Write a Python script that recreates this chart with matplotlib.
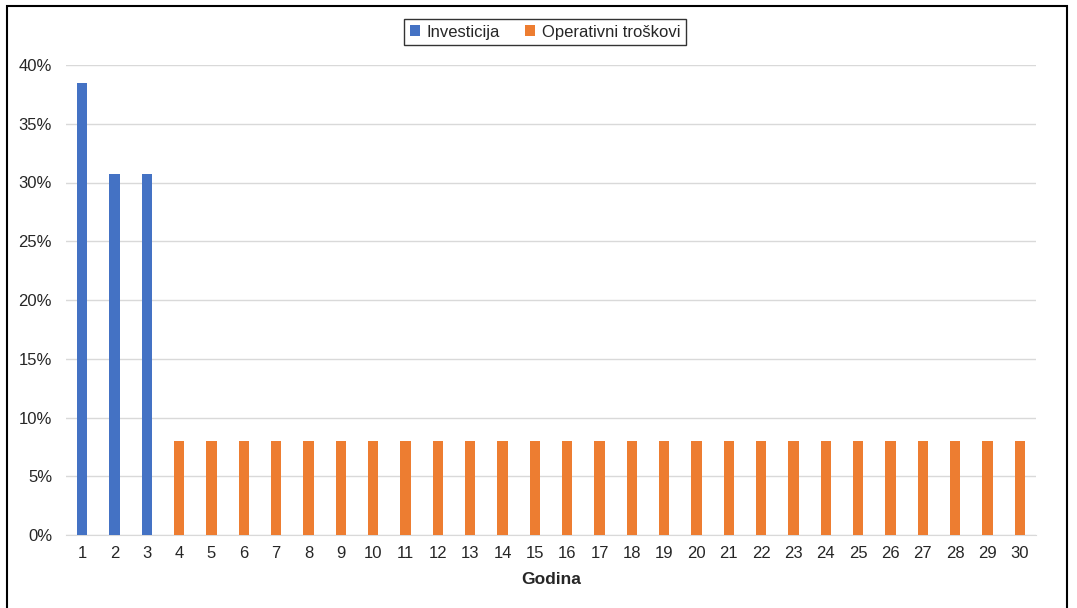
import matplotlib.pyplot as plt
import numpy as np
from matplotlib.patches import Rectangle

plt.rcParams['font.family'] = ['Liberation Sans', 'DejaVu Sans']

godina = list(range(1, 31))
investicija = [38.5, 30.75, 30.75] + [0] * 27
operativni = [0, 0, 0] + [8.0] * 27

fig = plt.figure(figsize=(10.77, 6.08), dpi=100)
ax = fig.add_axes([66 / 1077, 1 - 535 / 608, 970 / 1077, 470 / 608])

x = np.arange(len(godina))
ax.bar(x, investicija, width=0.31, color='#4472C4', label='Investicija', zorder=3)
ax.bar(x, operativni, width=0.31, color='#ED7D31', label='Operativni troškovi', zorder=3)

ax.set_xlim(-0.5, len(godina) - 0.5)
ax.set_ylim(0, 40)
ax.set_yticks(range(0, 41, 5))
ax.set_yticklabels([f'{v}%' for v in range(0, 41, 5)])
ax.set_xticks(x)
ax.set_xticklabels([str(g) for g in godina])
ax.tick_params(length=0, labelsize=12, colors='#262626', pad=8)
ax.tick_params(axis='y', pad=10)
ax.grid(axis='y', color='#d9d9d9', linewidth=1, zorder=0)
for s in ['top', 'right', 'left']:
    ax.spines[s].set_visible(False)
ax.spines['bottom'].set_color('#d9d9d9')
ax.set_xlabel('Godina', fontsize=12.5, fontweight='bold', labelpad=8, color='#262626')

leg = ax.legend(loc='center', bbox_to_anchor=(545 / 1077, 1 - 32 / 608),
                bbox_transform=fig.transFigure, ncol=2, frameon=True,
                fancybox=False, edgecolor='black', fontsize=12,
                handlelength=0.6, handleheight=0.6, handletextpad=0.4,
                columnspacing=1.5, borderpad=0.35, borderaxespad=0)
leg.get_frame().set_linewidth(1)
for t in leg.get_texts():
    t.set_color('#262626')

fig.patches.append(Rectangle((7 / 1077, -0.01), 1060 / 1077, 1 - 6 / 608 + 0.01,
                             transform=fig.transFigure, fill=False,
                             edgecolor='black', linewidth=1.5))

fig.savefig('out.png', dpi=100)
